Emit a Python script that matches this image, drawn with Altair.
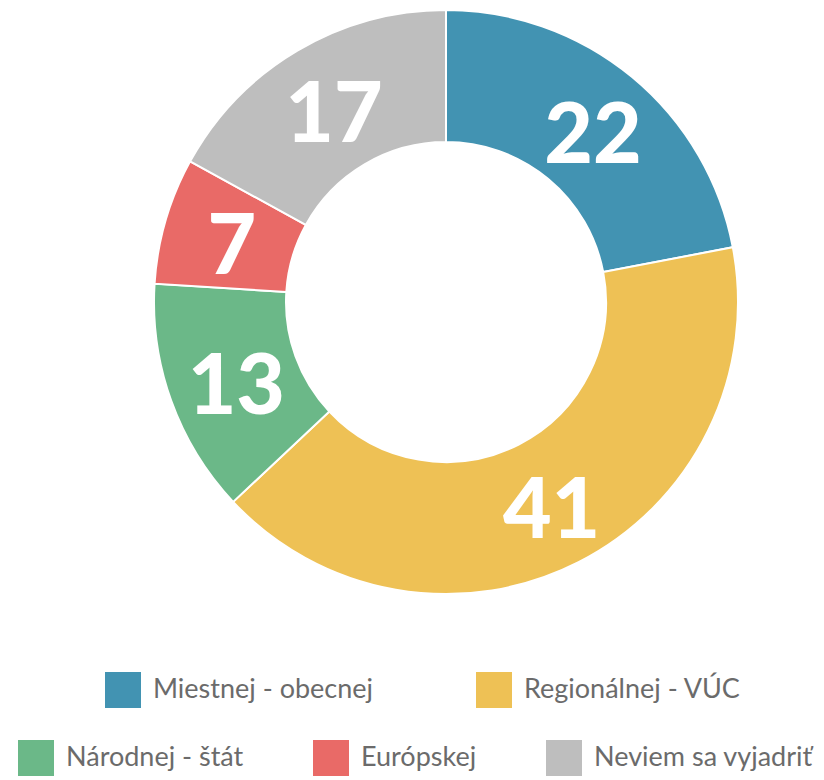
import altair as alt
import pandas as pd

categories = ["Miestnej - obecnej", "Regionálnej - VÚC", "Národnej - štát", "Európskej", "Neviem sa vyjadriť"]
values = [22, 41, 13, 7, 17]
colors = ["#4293B2", "#EEC155", "#6BB888", "#E96A67", "#BEBEBE"]

df = pd.DataFrame({"cat": categories, "val": values, "idx": list(range(len(categories)))})

CX, CY = 446, 302

def arc_layer(legend_values, lx, ly, col_pad):
    return alt.Chart(df).mark_arc(
        innerRadius=160, outerRadius=292, stroke="white", strokeWidth=2
    ).encode(
        theta=alt.Theta("val:Q", stack=True),
        order=alt.Order("idx:Q"),
        color=alt.Color(
            "cat:N",
            sort=categories,
            scale=alt.Scale(domain=categories, range=colors),
            legend=alt.Legend(
                values=legend_values, title=None, orient="none",
                legendX=lx, legendY=ly, direction="horizontal",
                columns=len(legend_values), columnPadding=col_pad,
                symbolType="square", symbolSize=1296, symbolStrokeWidth=0,
                symbolOpacity=1, labelFont="Lato", labelFontSize=27,
                labelColor="#6b6b6b", labelOffset=12, padding=0,
                labelLimit=400,
            ),
        ),
        x=alt.value(CX), y=alt.value(CY),
    )

a1 = arc_layer(categories[:2], 105, 672, 102)
a2 = arc_layer(categories[2:], 18, 740, 69)

text = alt.Chart(df).mark_text(
    radius=226, font="Lato", fontWeight=900, fontSize=84,
    color="white", align="center", baseline="middle", dy=10, dx=3
).encode(
    theta=alt.Theta("val:Q", stack=True),
    order=alt.Order("idx:Q"),
    text=alt.Text("val:Q"),
    x=alt.value(CX), y=alt.value(CY),
)

chart = alt.layer(a1, a2, text).resolve_scale(color="independent").properties(
    width=824, height=780, padding=0, autosize=alt.AutoSizeParams(type="none")
).configure_view(stroke=None)

chart.save("out.html", embed_options={"renderer": "svg", "actions": False})
